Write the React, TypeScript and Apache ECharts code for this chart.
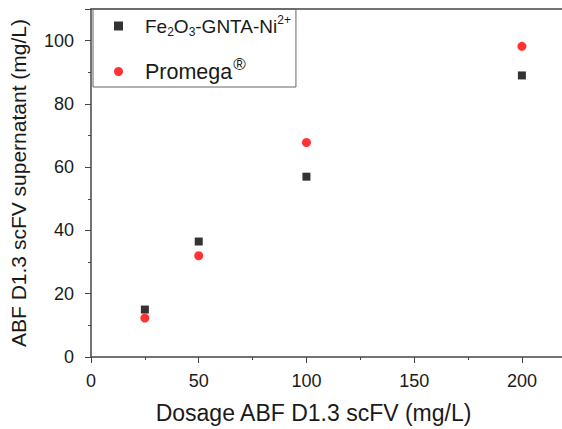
import React, { useEffect, useRef } from "react";
import * as echarts from "echarts";

const dosage = [25, 50, 100, 200];
const feValues = [15, 36.5, 57, 89];
const promegaValues = [12.3, 32, 67.8, 98.2];
const xTicks = [0, 50, 100, 150, 200];
const yTicks = [0, 20, 40, 60, 80, 100];

const FONT = "Liberation Sans, Arial, sans-serif";

export default function App() {
  const ref = useRef<HTMLDivElement>(null);
  useEffect(() => {
    if (!ref.current) return;
    const chart = echarts.init(ref.current, undefined, { renderer: "svg" });
    const axisColor = "#444";
    const txt = "#1a1a1a";
    chart.setOption({
      animation: false,
      backgroundColor: "#ffffff",
      textStyle: { fontFamily: FONT },
      grid: { left: 91, top: 9, bottom: 72, width: 474, outerBoundsMode: "none", containLabel: false },
      legend: {
        left: 93,
        top: 9,
        orient: "vertical",
        borderColor: "#666",
        borderWidth: 1,
        padding: [5, 5, 0, 21],
        itemGap: 18,
        itemWidth: 9,
        itemHeight: 9,
        data: [
          { name: "fe", icon: "rect", itemStyle: { color: "#000" } },
          { name: "promega", icon: "circle", itemStyle: { color: "#ff0000" } },
        ],
        formatter: (name: string) =>
          name === "fe"
            ? "{n|Fe}{sub|2}{n|O}{sub|3}{n|-GNTA-Ni}{sup|2+}"
            : "{p|Promega}{reg|®}",
        textStyle: {
          fontFamily: FONT,
          padding: [0, 0, 0, 17],
          rich: {
            n: { fontSize: 19, color: txt, lineHeight: 24, fontFamily: FONT },
            sub: { fontSize: 12, color: txt, lineHeight: 12, verticalAlign: "bottom", fontFamily: FONT },
            sup: { fontSize: 12, color: txt, lineHeight: 12, verticalAlign: "top", fontFamily: FONT },
            p: { fontSize: 21.5, color: txt, lineHeight: 24, fontFamily: FONT },
            reg: { fontSize: 17, color: txt, lineHeight: 10, padding: [0, 0, 14, 1], fontFamily: FONT },
          },
        },
      },
      xAxis: [
        {
          type: "value",
          min: 0,
          max: 220,
          interval: 50,
          position: "bottom",
          name: "Dosage ABF D1.3 scFV (mg/L)",
          nameLocation: "middle",
          nameGap: 44,
          nameTextStyle: { fontSize: 23, color: txt, fontFamily: FONT, padding: [0, 29, 0, 0] },
          axisLine: { lineStyle: { color: axisColor, width: 1.5 } },
          axisTick: { inside: false, length: 6, lineStyle: { color: axisColor } },
          minorTick: { show: true, splitNumber: 2, length: 3, lineStyle: { color: axisColor } },
          splitLine: { show: false },
          axisLabel: {
            fontSize: 18,
            color: txt,
            margin: 15,
            fontFamily: FONT,
            formatter: (v: number) => (xTicks.includes(v) ? String(v) : ""),
          },
        },
        {
          type: "value",
          min: 0,
          max: 220,
          position: "top",
          axisLine: { show: true, onZero: false, lineStyle: { color: axisColor, width: 1.5 } },
          axisTick: { show: false },
          axisLabel: { show: false },
          splitLine: { show: false },
        },
      ],
      yAxis: {
        type: "value",
        min: 0,
        max: 110,
        interval: 20,
        name: "ABF D1.3 scFV supernatant (mg/L)",
        nameLocation: "middle",
        nameGap: 62,
        nameTextStyle: { fontSize: 21, color: txt, fontFamily: FONT },
        axisLine: { show: true, lineStyle: { color: axisColor, width: 1.5 } },
        axisTick: { show: true, inside: false, length: 6, lineStyle: { color: axisColor } },
        minorTick: { show: true, splitNumber: 2, length: 3, lineStyle: { color: axisColor } },
        splitLine: { show: false },
        axisLabel: {
          fontSize: 18,
          color: txt,
          margin: 17,
          fontFamily: FONT,
          formatter: (v: number) => (yTicks.includes(v) ? String(v) : ""),
        },
      },
      series: [
        {
          name: "fe",
          type: "scatter",
          symbol: "rect",
          symbolSize: 8,
          itemStyle: { color: "#000" },
          data: dosage.map((d, i) => [d, feValues[i]]),
        },
        {
          name: "promega",
          type: "scatter",
          symbol: "circle",
          symbolSize: 9,
          itemStyle: { color: "#ff0000" },
          data: dosage.map((d, i) => [d, promegaValues[i]]),
        },
      ],
    });
    return () => chart.dispose();
  }, []);
  return (
    <div
      ref={ref}
      style={{ position: "fixed", left: 0, top: 0, width: 562, height: 429 }}
    />
  );
}
